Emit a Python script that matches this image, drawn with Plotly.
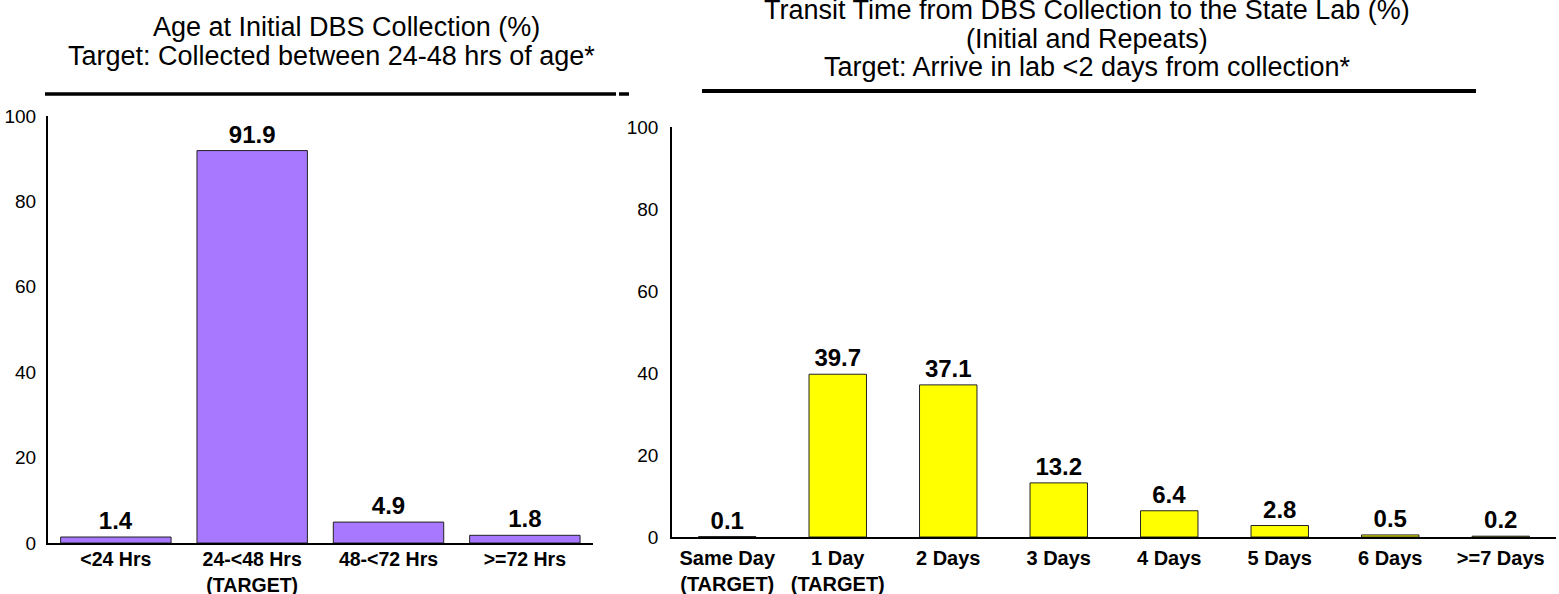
import plotly.graph_objects as go

# ---- data ----
left_categories = ["<24 Hrs", "24-<48 Hrs<br>(TARGET)", "48-<72 Hrs", ">=72 Hrs"]
left_values = [1.4, 91.9, 4.9, 1.8]

right_categories = ["Same Day<br>(TARGET)", "1 Day<br>(TARGET)", "2 Days", "3 Days",
                    "4 Days", "5 Days", "6 Days", ">=7 Days"]
right_values = [0.1, 39.7, 37.1, 13.2, 6.4, 2.8, 0.5, 0.2]

y_ticks = [0, 20, 40, 60, 80, 100]

left_title_lines = ["Age at Initial DBS Collection (%)",
                    "Target: Collected between 24-48 hrs of age*"]
right_title_lines = ["Transit Time from DBS Collection to the State Lab (%)",
                     "(Initial and Repeats)",
                     "Target: Arrive in lab <2 days from collection*"]

W, H = 1559, 594
FONT = "Liberation Sans, Arial, sans-serif"


def px_x(p):
    return p / W


def px_y(p):
    return 1 - p / H


fig = go.Figure()

fig.add_trace(go.Bar(
    x=left_categories, y=left_values, xaxis="x", yaxis="y",
    marker=dict(color="#A879FF", line=dict(color="#222222", width=1)),
    text=[f"{v:.1f}" for v in left_values], textposition="outside",
    textfont=dict(family=FONT, size=24, color="black", weight="bold"),
    cliponaxis=False, showlegend=False,
))

fig.add_trace(go.Bar(
    x=right_categories, y=right_values, xaxis="x2", yaxis="y2",
    marker=dict(color="#FFFF00", line=dict(color="#222222", width=1)),
    text=[f"{v:.1f}" for v in right_values], textposition="outside",
    textfont=dict(family=FONT, size=24, color="black", weight="bold"),
    cliponaxis=False, showlegend=False, width=0.52,
))

xaxis_common = dict(type="category", showline=True, linecolor="black", linewidth=1.5,
                    showgrid=False, zeroline=False, ticks="", automargin=False,
                    fixedrange=True)
yaxis_common = dict(range=[0, 100], tickvals=y_ticks, showline=True, linecolor="black",
                    linewidth=1.5, showgrid=False, zeroline=False, ticks="", automargin=False,
                    tickfont=dict(family=FONT, size=19, color="black"),
                    fixedrange=True)

annotations = []
for text, cx, cy in zip(left_title_lines, [346, 331], [27.5, 56]):
    annotations.append(dict(text=text, x=px_x(cx), y=px_y(cy), xref="paper", yref="paper",
                            xanchor="center", yanchor="middle", showarrow=False,
                            font=dict(family=FONT, size=27, color="black")))
for text, cy in zip(right_title_lines, [10, 39, 67]):
    annotations.append(dict(text=text, x=px_x(1087), y=px_y(cy), xref="paper", yref="paper",
                            xanchor="center", yanchor="middle", showarrow=False,
                            font=dict(family=FONT, size=27, color="black")))

fig.update_layout(
    width=W, height=H, autosize=False,
    margin=dict(l=0, r=0, t=0, b=0, pad=0),
    paper_bgcolor="white", plot_bgcolor="white",
    bargap=0.19,
    font=dict(family=FONT, color="black"),
    xaxis=dict(xaxis_common, domain=[px_x(47.7), px_x(593)], range=[-0.5, 3.5],
               anchor="y", ticklabelstandoff=-2,
               tickfont=dict(family=FONT, size=19.5, color="black", weight="bold")),
    yaxis=dict(yaxis_common, domain=[px_y(543), px_y(116)], anchor="x",
               ticklabelstandoff=6),
    xaxis2=dict(xaxis_common, domain=[px_x(672), px_x(1556)], range=[-0.5, 7.5],
                anchor="y2", ticklabelstandoff=2,
                tickfont=dict(family=FONT, size=20, color="black", weight="bold")),
    yaxis2=dict(yaxis_common, domain=[px_y(537), px_y(127)], anchor="x2",
                ticklabelstandoff=8),
    annotations=annotations,
    shapes=[
        dict(type="line", xref="paper", yref="paper", x0=px_x(45), x1=px_x(616),
             y0=px_y(94), y1=px_y(94), line=dict(color="black", width=3.5)),
        dict(type="line", xref="paper", yref="paper", x0=px_x(619), x1=px_x(629),
             y0=px_y(94), y1=px_y(94), line=dict(color="black", width=3.5)),
        dict(type="line", xref="paper", yref="paper", x0=px_x(702), x1=px_x(1476),
             y0=px_y(91), y1=px_y(91), line=dict(color="black", width=4)),
    ],
)

fig.write_html("out.html",
               config={"displayModeBar": False},
               post_script="document.body.style.margin='0px';"
                           "document.body.style.overflow='hidden';")
